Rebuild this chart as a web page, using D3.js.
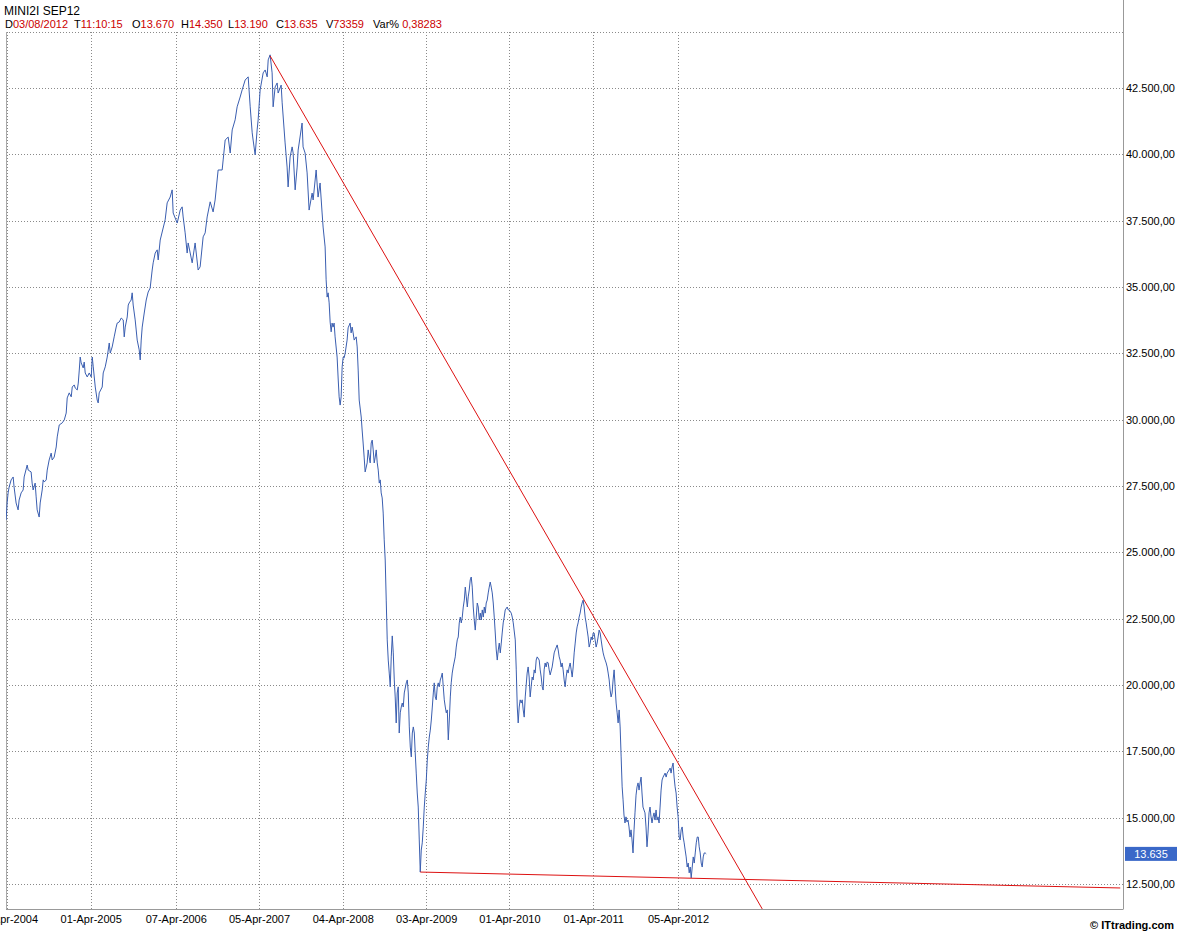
<!DOCTYPE html>
<html><head><meta charset="utf-8">
<script src="https://cdn.jsdelivr.net/npm/d3@7"></script>
<style>body{margin:0;background:#fff} svg{display:block;font-family:"Liberation Sans",Arial,sans-serif}</style>
</head><body><svg id="c" width="1178" height="937"></svg>
<script>
const title = "MINI2I SEP12";
const quoteLabels = ["D","T","O","H","L","C","V","Var% "];
const quoteValues = ["03/08/2012","11:10:15","13.670","14.350","13.190","13.635","73359","0,38283"];
const yTicks = [12500,15000,17500,20000,22500,25000,27500,30000,32500,35000,37500,40000,42500];
const xTickDates = ["2004-04-01","2005-04-01","2006-04-07","2007-04-05","2008-04-04","2009-04-03","2010-04-01","2011-04-01","2012-04-05"];
const lastPrice = 13635;
const resistanceLine = [[2007.390,43710],[2013.264,11560]];
const supportLine = [[2009.181,12950],[2017.538,12350]];
const priceSeries = [
[2004.238,26220],[2004.250,26860],[2004.262,27240],[2004.274,27460],[2004.298,27730],[2004.322,27840],[2004.333,27460],[2004.357,26860],[2004.381,26600],[2004.393,26970],[2004.417,27240],[2004.441,27350],[2004.453,27840],[2004.489,28290],[2004.501,28100],[2004.536,28030],[2004.548,27610],[2004.560,27350],[2004.584,27610],[2004.596,27090],[2004.608,26600],[2004.632,26330],[2004.644,26860],[2004.668,27350],[2004.680,27730],[2004.692,27650],[2004.716,27730],[2004.728,28100],[2004.751,28480],[2004.775,28740],[2004.787,28480],[2004.811,28590],[2004.835,28970],[2004.847,29350],[2004.871,29800],[2004.907,29880],[2004.931,29990],[2004.954,30250],[2004.966,30820],[2004.990,31010],[2005.014,30860],[2005.026,31230],[2005.050,31310],[2005.062,31190],[2005.086,31120],[2005.098,31380],[2005.110,31870],[2005.121,32360],[2005.133,32140],[2005.157,31950],[2005.169,32170],[2005.181,31760],[2005.205,31610],[2005.229,31760],[2005.253,31610],[2005.265,32360],[2005.277,31990],[2005.301,31230],[2005.324,30740],[2005.336,30630],[2005.348,31010],[2005.384,31230],[2005.396,31760],[2005.420,31990],[2005.444,32360],[2005.468,32890],[2005.480,32510],[2005.503,32740],[2005.527,33120],[2005.551,33490],[2005.563,33640],[2005.587,33680],[2005.611,33830],[2005.635,33760],[2005.647,33120],[2005.659,33490],[2005.683,33870],[2005.695,34320],[2005.706,34400],[2005.730,34510],[2005.742,34780],[2005.754,34320],[2005.778,33760],[2005.790,33380],[2005.802,33000],[2005.826,32630],[2005.838,32250],[2005.850,33000],[2005.862,33490],[2005.886,34020],[2005.910,34510],[2005.933,34810],[2005.957,34960],[2005.981,35640],[2005.993,35910],[2006.017,36280],[2006.041,36400],[2006.053,36020],[2006.077,36770],[2006.136,37530],[2006.160,38170],[2006.196,38390],[2006.220,38660],[2006.232,37790],
[2006.280,37410],[2006.316,37900],[2006.339,38020],[2006.351,37640],[2006.375,37040],[2006.399,36280],[2006.411,36660],[2006.459,35910],[2006.494,36660],[2006.530,35640],[2006.554,35760],[2006.590,36890],[2006.614,37040],[2006.638,37640],[2006.674,38210],[2006.709,37830],[2006.733,38280],[2006.769,39410],[2006.817,39410],[2006.829,39790],[2006.853,40540],[2006.889,40650],[2006.913,40050],[2006.937,40920],[2006.972,41300],[2006.996,41790],[2007.032,42160],[2007.056,42430],[2007.092,42800],[2007.128,42920],[2007.152,41790],[2007.176,40810],[2007.187,40540],[2007.211,39980],[2007.235,40920],[2007.247,41300],[2007.271,42430],[2007.307,43070],[2007.331,43180],[2007.355,42920],[2007.367,43560],[2007.390,43750],[2007.414,43070],[2007.426,41790],[2007.450,42540],[2007.474,42690],[2007.486,42310],[2007.522,42610],[2007.534,41940],[2007.569,40430],[2007.593,39520],[2007.605,38770],[2007.629,39900],[2007.653,40280],[2007.665,40050],[2007.689,38660],[2007.713,39520],[2007.725,40160],[2007.772,41180],[2007.784,40280],[2007.808,40050],[2007.832,39300],[2007.856,37900],[2007.892,38540],[2007.904,38280],[2007.940,39410],[2007.963,38390],[2007.987,38920],[2008.011,37790],[2008.023,37260],[2008.047,36510],[2008.059,35270],[2008.071,34620],[2008.083,34780],[2008.095,34400],[2008.107,33680],[2008.119,33310],[2008.130,33640],[2008.142,33490],[2008.154,33640],[2008.166,33120],[2008.190,32360],[2008.202,31570],[2008.214,30860],[2008.226,30550],[2008.238,30860],[2008.250,31990],[2008.262,32360],[2008.274,32330],[2008.286,32510],[2008.309,33000],[2008.321,33460],[2008.345,33640],[2008.357,33270],[2008.369,33490],[2008.381,33270],[2008.393,33000],[2008.417,33120],[2008.429,32740],[2008.441,31870],[2008.453,30740],[2008.477,30100],[2008.488,29610],[2008.500,29120],[2008.512,28590],[2008.524,28030],[2008.548,28370],[2008.560,28860],[2008.572,28590],[2008.584,28370],[2008.596,29120],[2008.608,29230],[2008.620,28860],[2008.632,28370],[2008.644,28590],[2008.656,28860],[2008.668,28370],[2008.680,28100],[2008.692,27610],[2008.704,27730],[2008.715,27240],[2008.727,27050],[2008.739,26480],[2008.751,25470],[2008.763,24710],[2008.775,23200],[2008.787,21700],[2008.799,20940],[2008.811,20450],[2008.823,19930],[2008.835,21060],[2008.847,21850],[2008.859,21210],[2008.871,20190],[2008.882,19550],[2008.894,18570],[2008.906,19700],[2008.918,19930],[2008.930,18190],[2008.942,18950],[2008.954,19170],[2008.966,19320],[2008.978,19170],[2008.990,19700],[2009.014,20080],[2009.026,20190],[2009.038,19700],[2009.050,18420],[2009.062,17660],[2009.074,17290],[2009.086,18190],[2009.098,18420],[2009.110,18190],[2009.121,17440],[2009.133,16680],[2009.145,15930],[2009.157,15400],[2009.169,14160],[2009.181,12950],[2009.193,13780],[2009.205,14050],[2009.217,14650],[2009.229,15400],[2009.241,15930],[2009.253,16420],[2009.265,17170],[2009.277,17660],[2009.289,18040],[2009.301,18300],[2009.313,18680],[2009.325,19170],[2009.337,19700],[2009.348,20080],[2009.360,19550],[2009.372,19440],[2009.384,19930],[2009.396,20080],[2009.408,19930],[2009.420,20190],[2009.432,20300],[2009.444,20450],[2009.456,19930],[2009.468,19440],[2009.480,19170],[2009.492,18950],[2009.504,19060],[2009.516,17930],[2009.528,18680],[2009.540,19550],[2009.551,20080],[2009.563,20450],[2009.575,20680],[2009.599,21060],[2009.611,21430],[2009.623,21700],[2009.635,21810],[2009.647,22340],[2009.659,22560],[2009.671,22340],[2009.683,22560],[2009.695,22940],[2009.707,23200],[2009.719,23690],[2009.731,23320],[2009.743,22940],[2009.754,23320],[2009.766,23580],[2009.778,23960],[2009.790,24070],[2009.802,23690],[2009.814,22940],[2009.826,22450],[2009.838,22070],[2009.850,22560],[2009.862,23090],[2009.874,22940],[2009.886,22450],[2009.898,22710],[2009.910,22450],[2009.922,22830],[2009.934,22560],[2009.946,22940],[2009.957,22710],[2009.969,23090],[2009.981,23200],[2009.993,23470],[2010.005,23690],[2010.017,23880],[2010.029,23690],[2010.041,23470],[2010.053,23090],[2010.065,22560],[2010.077,21960],[2010.089,21320],[2010.101,20940],[2010.113,21320],[2010.125,21580],[2010.137,21210],[2010.149,21580],[2010.160,21960],[2010.172,22340],[2010.184,22560],[2010.196,22830],[2010.220,22940],[2010.232,22830],[2010.244,22830],[2010.268,22710],[2010.280,22560],[2010.292,22340],[2010.316,21700],[2010.328,20570],[2010.340,19170],[2010.351,18570],[2010.363,19170],[2010.375,19440],[2010.387,19320],[2010.399,19440],[2010.411,19060],[2010.423,18790],[2010.435,19550],[2010.458,20450],[2010.470,20680],[2010.482,20300],[2010.494,19550],[2010.506,19930],[2010.518,20300],[2010.530,20190],[2010.542,20570],[2010.554,20450],[2010.566,20940],[2010.578,21060],[2010.602,20940],[2010.614,20570],[2010.626,20300],[2010.638,19930],[2010.649,19810],[2010.661,20570],[2010.673,20830],[2010.685,20680],[2010.697,20870],[2010.709,20830],[2010.721,20570],[2010.733,20380],[2010.757,20680],[2010.769,20940],[2010.781,21210],[2010.793,21320],[2010.817,21510],[2010.829,21320],[2010.841,21060],[2010.852,20940],[2010.864,20680],[2010.876,20830],[2010.888,20570],[2010.900,20190],[2010.912,19930],[2010.924,20300],[2010.936,20570],[2010.948,20450],[2010.960,20680],[2010.972,20830],[2010.984,20570],[2010.996,20300],[2011.008,20680],[2011.020,21210],[2011.032,21580],[2011.044,21960],[2011.055,22190],[2011.067,22340],[2011.079,22560],[2011.091,22710],[2011.103,22940],[2011.115,23090],[2011.127,23200],[2011.139,22940],[2011.151,22560],[2011.163,22340],[2011.175,22070],[2011.187,21810],[2011.199,21430],[2011.211,21580],[2011.223,21810],[2011.235,21700],[2011.247,21960],[2011.258,21960],[2011.270,21700],[2011.282,21430],[2011.294,21580],[2011.306,21810],[2011.318,22070],[2011.330,21960],[2011.342,21700],[2011.354,21430],[2011.366,21210],[2011.378,21060],[2011.390,20940],[2011.402,20830],[2011.414,20680],[2011.426,20450],[2011.438,20190],[2011.449,19810],[2011.461,19550],[2011.473,19700],[2011.485,20190],[2011.497,20570],[2011.509,19930],[2011.521,19320],[2011.533,18950],[2011.545,18570],[2011.557,19060],[2011.569,18420],[2011.581,17290],[2011.593,16160],
[2011.604,15670],[2011.615,15100],[2011.627,14800],[2011.639,15030],[2011.651,14840],[2011.663,14910],[2011.675,14650],[2011.687,14270],[2011.699,14540],[2011.711,14160],[2011.723,13670],[2011.735,14540],[2011.747,15210],[2011.759,15850],[2011.771,16160],[2011.783,16310],[2011.795,16040],[2011.807,16310],[2011.819,16530],[2011.830,15930],[2011.842,15400],[2011.854,15290],[2011.866,15180],[2011.878,14650],[2011.890,13900],[2011.902,14420],[2011.914,15180],[2011.926,15400],[2011.938,15030],[2011.950,14800],[2011.962,15030],[2011.974,15180],[2011.986,14910],[2011.998,15290],[2012.010,14910],[2012.022,15030],[2012.034,14800],[2012.046,15400],[2012.058,16040],[2012.070,16420],[2012.082,16530],[2012.106,16680],[2012.118,16530],[2012.130,16680],[2012.154,16800],[2012.166,16870],[2012.177,16680],[2012.189,16910],[2012.201,17060],[2012.213,16530],[2012.225,16160],[2012.237,15930],[2012.249,15400],[2012.261,15030],[2012.273,14270],[2012.285,14160],[2012.297,14540],[2012.309,14650],[2012.321,14270],[2012.333,14050],[2012.345,13780],[2012.357,13520],[2012.369,13140],[2012.381,13290],[2012.393,12920],[2012.405,13140],[2012.417,12730],[2012.429,13140],[2012.441,13520],[2012.453,13290],[2012.465,13670],[2012.477,14050],[2012.489,14270],[2012.501,14270],[2012.512,13900],[2012.524,13670],[2012.536,13290],[2012.548,13140],[2012.560,13520],[2012.572,13670],[2012.584,13670],[2012.596,13635]
];

function yearToDate(y){const yr=Math.floor(y);const s=Date.UTC(yr,0,1),e=Date.UTC(yr+1,0,1);return new Date(s+(y-yr)*(e-s));}

const svg = d3.select("#c");
const L=6, R=1123, T=32, B=909;
const tickDates = xTickDates.map(d=>d3.utcParse("%Y-%m-%d")(d));
const x = d3.scaleUtc().domain([tickDates[0], tickDates[tickDates.length-1]]).range([7,678]);
const y = d3.scaleLinear().domain([12500,42500]).range([884,88]);
const locale = d3.formatLocale({decimal:",",thousands:".",grouping:[3],currency:["",""]});
const fmt = locale.format(",.2f");
const fmtP = locale.format(",.0f");

// header
svg.append("text").attr("x",4).attr("y",15).attr("font-size",12).attr("fill","#000").text(title);
const labelX=[5,74,132,181,228,276,326,373];
quoteLabels.forEach((lab,i)=>{
  const t=svg.append("text").attr("x",labelX[i]).attr("y",28).attr("font-size",11).attr("xml:space","preserve");
  t.append("tspan").attr("fill","#000").text(lab);
  t.append("tspan").attr("fill","#cc0000").text(quoteValues[i]);
});

// grid
const grid = svg.append("g").attr("stroke","#8a8a8a").attr("stroke-dasharray","1,2").attr("stroke-width",1);
grid.selectAll("line.h").data(yTicks).join("line").attr("class","h")
  .attr("x1",L).attr("x2",R).attr("y1",d=>Math.round(y(d))+0.5).attr("y2",d=>Math.round(y(d))+0.5);
grid.selectAll("line.v").data(tickDates).join("line").attr("class","v")
  .attr("x1",d=>Math.round(x(d))+0.5).attr("x2",d=>Math.round(x(d))+0.5).attr("y1",T).attr("y2",B);
grid.append("line").attr("x1",L).attr("x2",R).attr("y1",T+0.5).attr("y2",T+0.5);

// frame
svg.append("line").attr("x1",L+0.5).attr("x2",L+0.5).attr("y1",T).attr("y2",B).attr("stroke","#aaa");
svg.append("line").attr("x1",R+0.5).attr("x2",R+0.5).attr("y1",0).attr("y2",B+0.5).attr("stroke","#999");
svg.append("line").attr("x1",L).attr("x2",R).attr("y1",B+0.5).attr("y2",B+0.5).attr("stroke","#999");

// axes labels
const yAxis = d3.axisRight(y).tickValues(yTicks).tickFormat(fmt).tickSize(0).tickPadding(3);
const gy = svg.append("g").attr("transform",`translate(${R},0)`).call(yAxis);
gy.select(".domain").remove();
gy.selectAll("text").attr("font-size",11).attr("fill","#000").attr("font-family","Liberation Sans, Arial, sans-serif");

const xAxis = d3.axisBottom(x).tickValues(tickDates).tickFormat(d3.utcFormat("%d-%b-%Y")).tickSize(0).tickPadding(6);
const gx = svg.append("g").attr("transform",`translate(0,${B})`).call(xAxis);
gx.select(".domain").remove();
gx.selectAll("text").attr("font-size",11).attr("fill","#000").attr("font-family","Liberation Sans, Arial, sans-serif");

// clip
svg.append("clipPath").attr("id","plot").append("rect").attr("x",L).attr("y",T).attr("width",R-L).attr("height",B-T);
const plot = svg.append("g").attr("clip-path","url(#plot)");

const line = d3.line().x(d=>x(yearToDate(d[0]))).y(d=>y(d[1]));
plot.append("path").datum(priceSeries).attr("d",line).attr("fill","none").attr("stroke","#3a5eb0").attr("stroke-width",1);
plot.append("path").datum(resistanceLine).attr("d",line).attr("fill","none").attr("stroke","#dd1111").attr("stroke-width",1);
plot.append("path").datum(supportLine).attr("d",line).attr("fill","none").attr("stroke","#dd1111").attr("stroke-width",1);

// last price box
const yl = y(lastPrice);
svg.append("rect").attr("x",R+2).attr("y",yl-7).attr("width",52).attr("height",14).attr("fill","#3a68c8");
svg.append("text").attr("x",R+28).attr("y",yl+4).attr("text-anchor","middle").attr("font-size",11).attr("fill","#fff").text(fmtP(lastPrice));

// copyright
svg.append("text").attr("x",1174).attr("y",929).attr("text-anchor","end").attr("font-size",11).attr("font-weight","bold").attr("fill","#000").text("© ITtrading.com");
</script></body></html>
